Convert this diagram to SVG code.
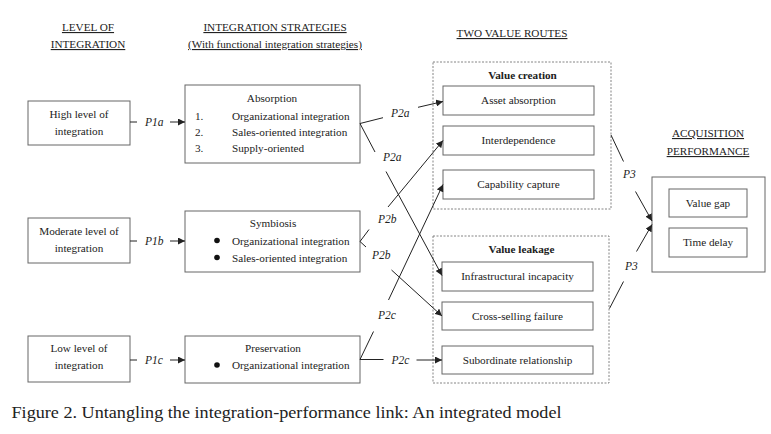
<svg xmlns="http://www.w3.org/2000/svg" width="771" height="434" viewBox="0 0 771 434">
<style>
text{font-family:"Liberation Serif","Times New Roman",serif;fill:#222;font-size:11.2px}
.c{text-anchor:middle}
.h{text-decoration:underline;text-anchor:middle}
.b{font-weight:bold}
.lab{font-style:italic;font-size:11.5px}
.box{fill:#fff;stroke:#666;stroke-width:1}
.dash{fill:none;stroke:#777;stroke-width:0.9;stroke-dasharray:2 1.5}
.ln{stroke:#222;stroke-width:1;fill:none}
.ar{stroke:#222;stroke-width:1;fill:none;marker-end:url(#ah)}
</style>
<defs>
<marker id="ah" viewBox="0 0 10 10" refX="10" refY="5" markerWidth="7" markerHeight="7" markerUnits="userSpaceOnUse" orient="auto">
<path d="M0,0 L10,5 L0,10 z" fill="#222"/>
</marker>
</defs>
<rect width="771" height="434" fill="#fff"/>

<g id="headers">
<text class="h" x="88" y="31">LEVEL OF </text>
<text class="h" x="88" y="48">INTEGRATION</text>
<text class="h" x="275" y="31">INTEGRATION STRATEGIES</text>
<text class="h" x="275" y="48">(With functional integration strategies)</text>
<text class="h" x="512" y="37">TWO VALUE ROUTES</text>
<text class="h" x="708" y="137">ACQUISITION </text>
<text class="h" x="708" y="155">PERFORMANCE</text>
</g>

<g id="high">
<rect class="box" x="28" y="101" width="102" height="44"/>
<text class="c" x="79" y="117.5">High level of</text>
<text class="c" x="79" y="135">integration</text>
</g>
<g id="moderate">
<rect class="box" x="28" y="218" width="102" height="45"/>
<text class="c" x="79" y="234.5">Moderate level of</text>
<text class="c" x="79" y="252">integration</text>
</g>
<g id="low">
<rect class="box" x="28" y="336" width="102" height="46"/>
<text class="c" x="79" y="352">Low level of</text>
<text class="c" x="79" y="368.5">integration</text>
</g>

<g id="absorption">
<rect class="box" x="185" y="85" width="175" height="78"/>
<text class="c" x="272" y="102">Absorption</text>
<text x="195" y="119.5">1.</text><text x="232" y="119.5">Organizational integration</text>
<text x="195" y="135.5">2.</text><text x="232" y="135.5">Sales-oriented integration</text>
<text x="195" y="152">3.</text><text x="232" y="152">Supply-oriented</text>
</g>
<g id="symbiosis">
<rect class="box" x="185" y="211" width="175" height="61"/>
<text class="c" x="273" y="226.5">Symbiosis</text>
<circle cx="217" cy="240.5" r="2.8" fill="#111"/><text x="232" y="244.5">Organizational integration</text>
<circle cx="217" cy="257.5" r="2.8" fill="#111"/><text x="232" y="261.5">Sales-oriented integration</text>
</g>
<g id="preservation">
<rect class="box" x="185" y="336" width="175" height="47"/>
<text class="c" x="273" y="352">Preservation</text>
<circle cx="217" cy="365" r="2.8" fill="#111"/><text x="232" y="369">Organizational integration</text>
</g>

<g id="value-creation">
<rect class="dash" x="433" y="62" width="178" height="147"/>
<text class="c b" x="522.5" y="78.5">Value creation</text>
</g>
<g id="asset-absorption">
<rect class="box" x="443" y="86" width="151" height="29"/>
<text class="c" x="518.5" y="104">Asset absorption</text>
</g>
<g id="interdependence">
<rect class="box" x="443" y="126" width="151" height="29"/>
<text class="c" x="518.5" y="144">Interdependence</text>
</g>
<g id="capability-capture">
<rect class="box" x="443" y="170" width="151" height="29"/>
<text class="c" x="518.5" y="188">Capability capture</text>
</g>

<g id="value-leakage">
<rect class="dash" x="433" y="236" width="176" height="147"/>
<text class="c b" x="521.5" y="253">Value leakage</text>
</g>
<g id="infrastructural-incapacity">
<rect class="box" x="442" y="262" width="151" height="29"/>
<text class="c" x="517.5" y="280">Infrastructural incapacity</text>
</g>
<g id="cross-selling-failure">
<rect class="box" x="442" y="302" width="151" height="28"/>
<text class="c" x="517.5" y="320">Cross-selling failure</text>
</g>
<g id="subordinate-relationship">
<rect class="box" x="442" y="346" width="151" height="28"/>
<text class="c" x="517.5" y="364">Subordinate relationship</text>
</g>

<g id="acquisition-performance">
<rect class="box" x="652" y="177" width="113" height="95"/>
</g>
<g id="value-gap">
<rect class="box" x="669" y="189" width="78" height="28"/>
<text class="c" x="708" y="207">Value gap</text>
</g>
<g id="time-delay">
<rect class="box" x="669" y="228" width="78" height="29"/>
<text class="c" x="708" y="246">Time delay</text>
</g>

<g id="connectors">
<line class="ln" x1="130" y1="122" x2="137" y2="122"/>
<line class="ar" x1="170" y1="122" x2="185" y2="122"/>
<text class="lab" x="145" y="126">P1a</text>
<line class="ln" x1="130" y1="241" x2="137" y2="241"/>
<line class="ar" x1="170" y1="241" x2="185" y2="241"/>
<text class="lab" x="145" y="245">P1b</text>
<line class="ln" x1="130" y1="360" x2="137" y2="360"/>
<line class="ar" x1="170" y1="360" x2="185" y2="360"/>
<text class="lab" x="145" y="364">P1c</text>

<line class="ln" x1="360" y1="123.5" x2="383" y2="117.7"/>
<text class="lab" x="391" y="117">P2a</text>
<line class="ar" x1="418" y1="107.3" x2="443" y2="101.5"/>

<line class="ln" x1="360" y1="123.5" x2="375" y2="152"/>
<text class="lab" x="383" y="161">P2a</text>
<line class="ar" x1="386" y1="171.5" x2="442" y2="275.5"/>

<line class="ln" x1="360" y1="241.5" x2="369" y2="229.5"/>
<text class="lab" x="378" y="223">P2b</text>
<line class="ar" x1="388" y1="207" x2="443" y2="140.5"/>

<line class="ln" x1="360" y1="241.5" x2="366" y2="247"/>
<text class="lab" x="372" y="259">P2b</text>
<line class="ar" x1="391.5" y1="270" x2="442" y2="316"/>

<line class="ln" x1="360" y1="359.5" x2="373.5" y2="331.5"/>
<text class="lab" x="378" y="319">P2c</text>
<line class="ar" x1="388.5" y1="300" x2="443" y2="184.5"/>

<line class="ln" x1="360" y1="359.5" x2="383.5" y2="359.5"/>
<text class="lab" x="391.5" y="364">P2c</text>
<line class="ar" x1="416.5" y1="360" x2="442" y2="360"/>

<line class="ln" x1="611" y1="135" x2="623.5" y2="161.5"/>
<text class="lab" x="623" y="178">P3</text>
<line class="ar" x1="635.5" y1="191.5" x2="652" y2="221"/>

<line class="ln" x1="609.5" y1="308.5" x2="623.5" y2="281.5"/>
<text class="lab" x="625" y="270">P3</text>
<line class="ar" x1="636.5" y1="251.5" x2="652" y2="224.5"/>
</g>

<text x="11.5" y="418" style="font-size:17px" textLength="550" lengthAdjust="spacingAndGlyphs">Figure 2. Untangling the integration-performance link: An integrated model</text>
</svg>
